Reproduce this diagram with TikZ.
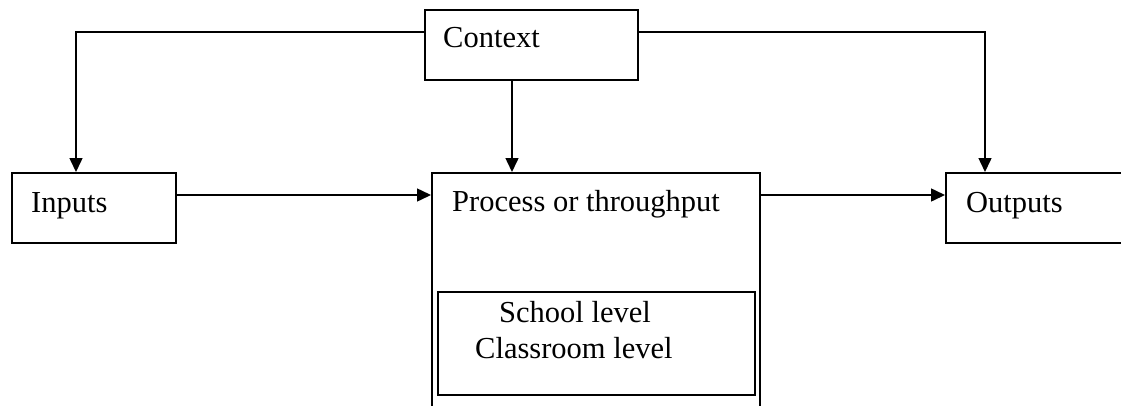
\documentclass[tikz,border=0pt]{standalone}
\usepackage{fontspec}
\setmainfont{Liberation Serif}
\usetikzlibrary{arrows.meta}
\begin{document}
\begin{tikzpicture}[x=1pt,y=-1pt,
  box/.style={draw=black,line width=1.7pt,rectangle,inner sep=0pt,anchor=north west},
  lbl/.style={anchor=base west,inner sep=0pt,font=\fontsize{30.5}{36}\selectfont},
  arr/.style={line width=1.5pt,-{Triangle[length=14pt,width=13pt]}}]
\useasboundingbox[fill=white] (0,0) rectangle (1121,405);
% boxes
\node[box,minimum width=213pt,minimum height=70pt] (ctx) at (424,9) {};
\node[box,minimum width=164pt,minimum height=70pt] (inp) at (11,172) {};
\node[box,minimum width=328pt,minimum height=260pt] (proc) at (431,172) {};
\node[box,minimum width=200pt,minimum height=70pt] (out) at (945,172) {};
\node[box,minimum width=317pt,minimum height=103pt] (lvl) at (437,291) {};
% texts
\node[lbl] (tctx) at (443,47) {Context};
\node[lbl] (tinp) at (31,212) {Inputs};
\node[lbl] (tproc) at (452,211) {Process or throughput};
\node[lbl] (tout) at (966,212) {Outputs};
\node[lbl] (tsch) at (499,322) {School level};
\node[lbl] (tcls) at (475,358) {Classroom level};
% connectors
\draw[arr] ([yshift=-23pt]ctx.north west) -| ([xshift=65pt]inp.north west);
\draw[arr] ([yshift=-23pt]ctx.north east) -| ([xshift=40pt]out.north west);
\draw[arr] ([xshift=81pt]proc.north west |- ctx.south) -- ([xshift=81pt]proc.north west);
\draw[arr] ([yshift=-23pt]inp.north east) -- ([yshift=-23pt]inp.north east -| proc.west);
\draw[arr] ([yshift=-23pt]proc.north east) -- ([yshift=-23pt]proc.north east -| out.west);
\end{tikzpicture}
\end{document}
